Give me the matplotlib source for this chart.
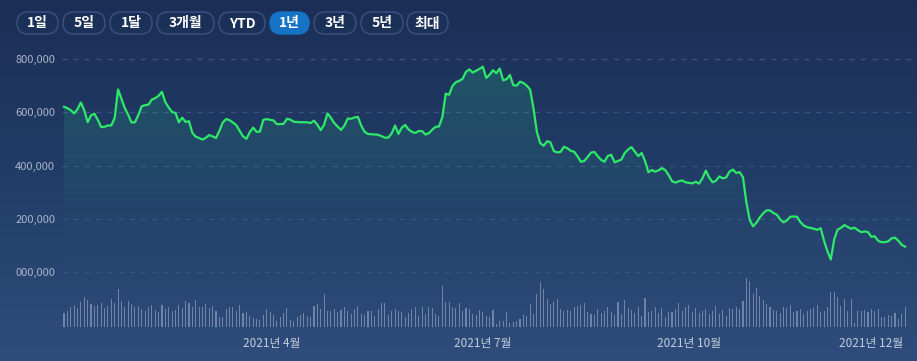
import numpy as np
import matplotlib
matplotlib.use("Agg")
import matplotlib.pyplot as plt
from matplotlib.patches import FancyBboxPatch
from matplotlib.transforms import IdentityTransform
from matplotlib.ticker import FuncFormatter
from matplotlib.colors import LinearSegmentedColormap

plt.rcParams['font.family'] = ['Noto Sans CJK KR', 'DejaVu Sans']

# ---------------- data ----------------
price_k = [
    620, 615, 607, 595, 611, 636, 607, 562, 588, 594,
    571, 544, 545, 550, 550, 578, 685, 650, 615, 590,
    561, 562, 589, 622, 626, 628, 647, 652, 661, 676,
    637, 617, 600, 597, 562, 579, 563, 566, 522, 508,
    503, 497, 504, 514, 509, 503, 530, 561, 574, 570,
    561, 551, 530, 509, 500, 525, 542, 526, 527, 571,
    574, 571, 569, 555, 555, 556, 575, 572, 564, 563,
    562, 562, 562, 559, 568, 553, 532, 553, 595, 579,
    559, 546, 533, 549, 576, 575, 580, 582, 549, 526,
    518, 517, 516, 515, 510, 504, 505, 520, 550, 518,
    542, 552, 535, 526, 522, 529, 529, 516, 521, 534,
    545, 546, 581, 669, 665, 698, 712, 717, 725, 751,
    760, 748, 755, 762, 770, 728, 740, 757, 746, 763,
    719, 723, 739, 701, 699, 714, 709, 699, 684, 613,
    525, 483, 474, 491, 487, 454, 449, 451, 470, 465,
    455, 452, 435, 414, 417, 432, 448, 451, 435, 421,
    414, 436, 440, 412, 417, 422, 447, 460, 469, 452,
    435, 447, 417, 375, 383, 377, 382, 390, 383, 364,
    341, 336, 341, 344, 337, 335, 333, 339, 332, 352,
    381, 355, 337, 343, 359, 352, 355, 377, 385, 372,
    375, 356, 262, 196, 172, 186, 206, 221, 232, 232,
    222, 216, 198, 187, 194, 208, 209, 208, 188, 175,
    169, 166, 163, 159, 165, 118, 79, 48, 123, 160,
    166, 177, 170, 163, 167, 158, 150, 153, 151, 133,
    135, 118, 113, 113, 116, 127, 130, 118, 103, 96,
]
price = [v * 1000 for v in price_k]

volume = [
    42, 50, 62, 68, 58, 75, 92, 82, 70, 64,
    68, 72, 58, 65, 85, 72, 114, 80, 62, 78,
    70, 60, 65, 55, 48, 60, 66, 52, 45, 68,
    55, 60, 48, 52, 66, 58, 80, 72, 60, 82,
    62, 60, 70, 58, 65, 48, 32, 30, 55, 60,
    62, 50, 68, 42, 45, 35, 28, 25, 22, 38,
    55, 45, 38, 18, 30, 42, 58, 22, 18, 30,
    38, 42, 35, 32, 65, 70, 55, 99, 48, 50,
    55, 45, 52, 60, 48, 40, 55, 65, 40, 38,
    48, 50, 35, 55, 72, 72, 38, 48, 55, 50,
    45, 30, 42, 55, 62, 35, 60, 40, 62, 58,
    40, 35, 124, 75, 75, 60, 58, 72, 48, 58,
    55, 40, 38, 52, 45, 35, 30, 52, 10, 18,
    20, 45, 12, 15, 18, 25, 38, 35, 70, 40,
    100, 135, 115, 85, 70, 75, 85, 55, 50, 52,
    48, 60, 65, 68, 72, 45, 40, 38, 55, 42,
    50, 60, 45, 38, 75, 40, 82, 58, 52, 42,
    60, 35, 87, 45, 50, 62, 42, 58, 30, 45,
    45, 55, 72, 48, 60, 68, 45, 58, 42, 50,
    55, 40, 48, 65, 40, 52, 35, 58, 55, 60,
    55, 80, 147, 140, 100, 118, 95, 82, 70, 60,
    52, 48, 42, 60, 58, 68, 45, 50, 55, 40,
    48, 55, 58, 68, 45, 50, 60, 107, 107, 90,
    65, 85, 48, 85, 12, 48, 50, 52, 45, 55,
    48, 55, 30, 30, 38, 35, 42, 25, 40, 60,
]

month_labels = ['2021년 4월', '2021년 7월', '2021년 10월', '2021년 12월']
month_pos = [61.6, 124, 185, 239]
y_ticks = [0, 200000, 400000, 600000, 800000]
range_buttons = ['1일', '5일', '1달', '3개월', 'YTD', '1년', '3년', '5년', '최대']
active_button = '1년'

# ---------------- figure ----------------
W, H = 917, 361
fig = plt.figure(figsize=(W / 100, H / 100), dpi=100)

# background gradient
bg = fig.add_axes([0, 0, 1, 1], zorder=-10)
bg_cmap = LinearSegmentedColormap.from_list('bg', ['#1b2f56', '#223d68', '#2f4d7c'])
grad = np.linspace(0, 1, 256).reshape(-1, 1)
bg.imshow(grad, aspect='auto', cmap=bg_cmap, extent=[0, 1, 0, 1], origin='upper')
bg.set_axis_off()

def fx(x):
    return x / W

def fy(y):
    return 1 - y / H

n = len(price)
idx = np.arange(n)
px_per_day = 3.378
x0_px = 64.0
ax_left_px, ax_right_px = 62.0, 917.0
xmin = (ax_left_px - x0_px) / px_per_day
xmax = (ax_right_px - x0_px) / px_per_day

# price axes: pixel mapping 800k @ y=58.7, 0 @ y=272.3
top_px, bot_px = 45.0, 330.0
val_per_px = 800000 / (272.3 - 58.7)
ytop = 800000 + (58.7 - top_px) * val_per_px
ybot = -(bot_px - 272.3) * val_per_px

ax = fig.add_axes([fx(ax_left_px), fy(bot_px), fx(ax_right_px - ax_left_px), (bot_px - top_px) / H])
ax.patch.set_alpha(0)
ax.set_xlim(xmin, xmax)
ax.set_ylim(ybot, ytop)
for s in ax.spines.values():
    s.set_visible(False)

# gradient fill under line
fill_bottom = -60000
poly = ax.fill_between(idx, price, fill_bottom, color='none', lw=0)
fill_cmap = LinearSegmentedColormap.from_list(
    'fill', [(0.0, (0.18, 0.85, 0.55, 0.0)), (0.35, (0.18, 0.85, 0.55, 0.03)),
             (1.0, (0.18, 0.85, 0.55, 0.20))])
im = ax.imshow(np.linspace(0, 1, 256).reshape(-1, 1), cmap=fill_cmap, aspect='auto',
               extent=[0, n - 1, fill_bottom, 780000], origin='lower', zorder=1)
im.set_clip_path(poly.get_paths()[0], transform=ax.transData)

ax.plot(idx, price, color='#2ee86a', lw=1.6, zorder=3, solid_joinstyle='round')

ax.set_yticks(y_ticks)
ax.yaxis.set_major_formatter(FuncFormatter(lambda v, p: '000,000' if v == 0 else f'{v:,.0f}'))
ax.tick_params(axis='y', length=0, pad=5, labelsize=8, labelcolor='#aab4c8')
ax.grid(axis='y', color='#38537f', lw=0.9, ls=(0, (4, 5)))
ax.set_axisbelow(True)
ax.set_xticks([])

# volume axes
vol_bot_px = 327.3
vol_h_px = 60
ax_v = fig.add_axes([fx(ax_left_px), fy(vol_bot_px), fx(ax_right_px - ax_left_px), vol_h_px / H])
ax_v.patch.set_alpha(0)
ax_v.set_xlim(xmin, xmax)
ax_v.set_ylim(0, 147 * vol_h_px / 49)
ax_v.bar(idx, volume, width=0.32, color='#7e8fb2', alpha=0.85, lw=0)
for s in ax_v.spines.values():
    s.set_visible(False)
ax_v.set_yticks([])
ax_v.set_xticks(month_pos)
ax_v.set_xticklabels(month_labels)
ax_v.tick_params(axis='x', length=0, pad=7, labelsize=8.5, labelcolor='#c3cbdb')

# range buttons
btn_x = [(17, 58), (63, 105), (110, 152), (157, 214), (219, 265), (270, 309), (314, 356), (361, 403), (407, 448)]
by0, by1 = 12, 34
for label, (a, b) in zip(range_buttons, btn_x):
    active = label == active_button
    h = by1 - by0
    patch = FancyBboxPatch((a, H - by1), b - a, h,
                           boxstyle=f'round,pad=0,rounding_size={h / 2}',
                           transform=IdentityTransform(),
                           facecolor='#1672c4' if active else 'none',
                           edgecolor='#1672c4' if active else '#3b5280', lw=1.0)
    fig.patches.append(patch)
    fig.text(fx((a + b) / 2), fy((by0 + by1) / 2 + 0.5), label, ha='center', va='center',
             color='white', fontsize=10, fontweight='bold')

fig.savefig('out.png', dpi=100)
